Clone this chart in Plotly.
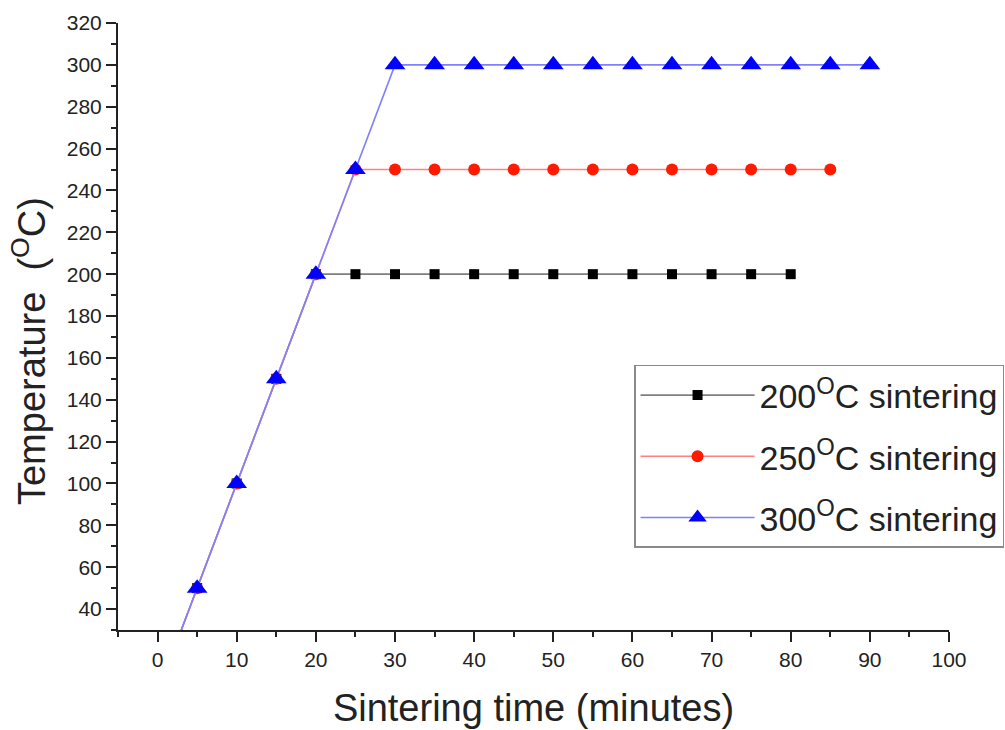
import plotly.graph_objects as go

# Data
time_200 = [0, 5, 10, 15, 20, 25, 30, 35, 40, 45, 50, 55, 60, 65, 70, 75, 80]
temp_200 = [0, 50, 100, 150, 200, 200, 200, 200, 200, 200, 200, 200, 200, 200, 200, 200, 200]

time_250 = [0, 5, 10, 15, 20, 25, 30, 35, 40, 45, 50, 55, 60, 65, 70, 75, 80, 85]
temp_250 = [0, 50, 100, 150, 200, 250, 250, 250, 250, 250, 250, 250, 250, 250, 250, 250, 250, 250]

time_300 = [0, 5, 10, 15, 20, 25, 30, 35, 40, 45, 50, 55, 60, 65, 70, 75, 80, 85, 90]
temp_300 = [0, 50, 100, 150, 200, 250, 300, 300, 300, 300, 300, 300, 300, 300, 300, 300, 300, 300, 300]

labels = ["200<sup>O</sup>C sintering", "250<sup>O</sup>C sintering", "300<sup>O</sup>C sintering"]

x_ticks = [0, 10, 20, 30, 40, 50, 60, 70, 80, 90, 100]
y_ticks = [40, 60, 80, 100, 120, 140, 160, 180, 200, 220, 240, 260, 280, 300, 320]

x_title = "Sintering time (minutes)"
y_title = "Temperature  (<sup>O</sup>C)"

FONT = "Arial, Liberation Sans, sans-serif"

fig = go.Figure()
fig.add_trace(go.Scatter(
    x=time_200, y=temp_200, mode="lines+markers", name=labels[0], legendgroup="a",
    line=dict(color="#7f7f7f", width=1.6),
    marker=dict(symbol="square", size=10, color="#000000"),
))
fig.add_trace(go.Scatter(
    x=time_250, y=temp_250, mode="lines+markers", name=labels[1], legendgroup="b",
    line=dict(color="#ff8080", width=1.6),
    marker=dict(symbol="circle", size=12, color="#ff1a00"),
))
fig.add_trace(go.Scatter(
    x=time_300, y=temp_300, mode="lines+markers", name=labels[2], legendgroup="c",
    line=dict(color="#8080ff", width=1.6),
    marker=dict(symbol="triangle-up", size=18, color="#0000ff"),
))

fig.update_layout(
    width=1005, height=730,
    margin=dict(l=118, r=56, t=23, b=100, autoexpand=False),
    plot_bgcolor="white", paper_bgcolor="white",
    font=dict(family=FONT, color="#222222"),
    showlegend=True,
    legend=dict(
        x=0.621, y=0.4366, xanchor="left", yanchor="top",
        bordercolor="#8a8a8a", borderwidth=1.5, bgcolor="white",
        font=dict(size=34, color="#222222", family=FONT),
        itemwidth=114, tracegroupgap=14,
    ),
    xaxis=dict(
        range=[-5, 100], tickvals=x_ticks, ticks="outside", ticklen=10, tickwidth=2,
        tickcolor="#222222", showline=True, linecolor="#222222", linewidth=2,
        showgrid=False, zeroline=False, tickfont=dict(size=21), automargin=False,
        minor=dict(dtick=5, tick0=-5, ticks="outside", ticklen=5, tickwidth=2, tickcolor="#222222"),
        title=dict(text=x_title, font=dict(size=38), standoff=24),
    ),
    yaxis=dict(
        range=[30, 320], tickvals=y_ticks, ticks="outside", ticklen=10, tickwidth=2,
        tickcolor="#222222", showline=True, linecolor="#222222", linewidth=2,
        showgrid=False, zeroline=False, tickfont=dict(size=21), automargin=False,
        minor=dict(dtick=10, tick0=30, ticks="outside", ticklen=5, tickwidth=2, tickcolor="#222222"),
    ),
    annotations=[dict(
        text=y_title, textangle=-90, xref="paper", yref="paper",
        x=-0.1071, y=0.4596, xanchor="center", yanchor="middle", showarrow=False,
        font=dict(size=38, color="#222222", family=FONT),
    )],
)

fig.write_html("out.html")
